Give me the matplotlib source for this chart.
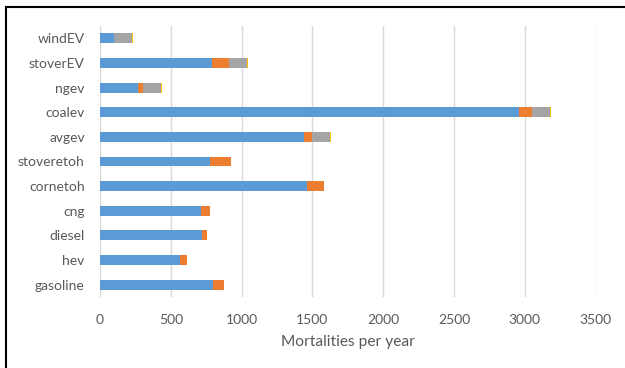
import matplotlib.pyplot as plt
import matplotlib.patches as mpatches
import numpy as np

plt.rcdefaults()
plt.rcParams['font.family'] = ['Lato', 'DejaVu Sans']

# data (cumulative ends converted to segments)
cats = ["gasoline", "hev", "diesel", "cng", "cornetoh", "stoveretoh",
        "avgev", "coalev", "ngev", "stoverEV", "windEV"]
seg_blue = [800, 563, 720, 716, 1462, 779, 1441, 2961, 266, 791, 100]
seg_orange = [75, 54, 36, 63, 118, 146, 59, 92, 40, 122, 0]
seg_gray = [0, 0, 0, 0, 0, 0, 124, 125, 127, 125, 126]
seg_yellow = [0, 0, 0, 0, 0, 0, 6, 7, 6, 6, 5]

colors = ["#5B9BD5", "#ED7D31", "#A5A5A5", "#FFC000"]
txt = "#595959"

fig = plt.figure(figsize=(6.25, 3.68), dpi=100)
ax = fig.add_axes([100/625, 1 - 297/368, 495.5/625, 271/368])

y_pos = np.arange(len(cats))
left = np.zeros(len(cats))
for vals, c in zip([seg_blue, seg_orange, seg_gray, seg_yellow], colors):
    ax.barh(y_pos, vals, left=left, height=0.4, color=c, linewidth=0)
    left += np.array(vals)

ax.set_xlim(0, 3500)
ax.set_ylim(-0.5, len(cats) - 0.5)
ax.set_xticks(np.arange(0, 3501, 500))
ax.set_yticks(y_pos)
ax.set_yticklabels(cats)
ax.xaxis.grid(True, color="#D9D9D9", linewidth=1)
ax.set_axisbelow(True)
for s in ax.spines.values():
    s.set_visible(False)
ax.tick_params(axis="both", length=0, labelsize=10, colors=txt)
ax.tick_params(axis="y", pad=11)
ax.tick_params(axis="x", pad=12)
ax.set_xlabel("Mortalities per year", fontsize=11.2, color=txt, labelpad=7)

# chart border (right and bottom fall outside the image)
fig.patches.append(mpatches.Rectangle((6/625, -0.05), 1.2, 1 - 7/368 + 0.05,
                                      transform=fig.transFigure, fill=False,
                                      edgecolor="black", linewidth=1.5))

fig.savefig("out.png", dpi=100)
